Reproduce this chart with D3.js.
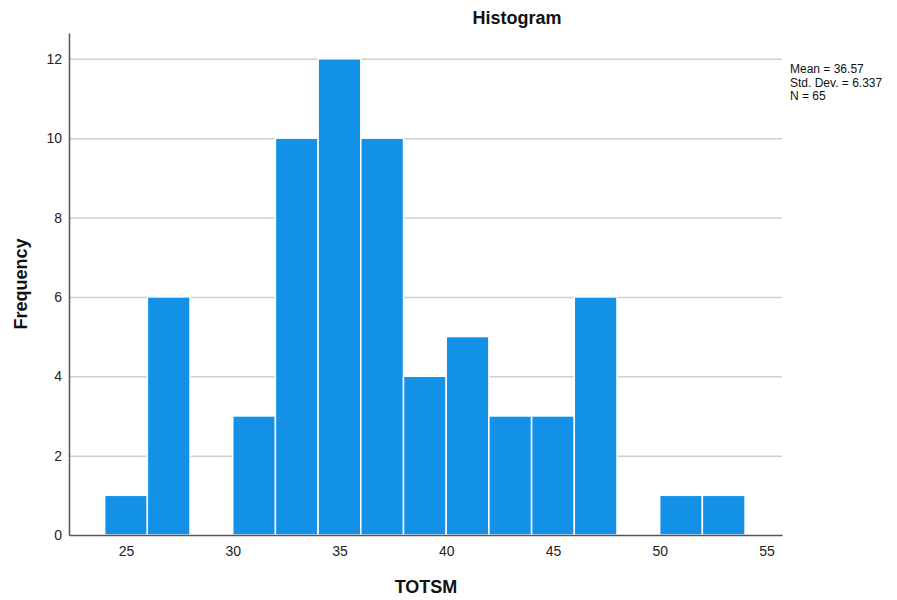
<!DOCTYPE html>
<html>
  <head>
    <title>Histogram</title>
    <script src="https://d3js.org/d3.v7.min.js"></script>
    <style>
      body { margin: 0; background: #fff; }
      svg { font-family: "Liberation Sans", Arial, sans-serif; }
      .axis .tick line { display: none; }
      .axis .domain { stroke: #555; stroke-width: 1.5px; }
      .axis .tick text { font-size: 14px; fill: #222; }
      .grid line { stroke: #cfcfcf; stroke-width: 1.5px; }
      .grid .domain { display: none; }
      .axis__label { font-size: 18px; font-weight: bold; fill: #111; text-anchor: middle; }
      .title { font-size: 18px; font-weight: bold; fill: #111; text-anchor: middle; }
      .stats { font-size: 12px; fill: #111; }
    </style>
  </head>
  <body>
    <svg width="897" height="600"></svg>
    <script>
      const binStarts = [24, 26, 28, 30, 32, 34, 36, 38, 40, 42, 44, 46, 48, 50, 52];
      const frequencies = [1, 6, 0, 3, 10, 12, 10, 4, 5, 3, 3, 6, 0, 1, 1];
      const binWidth = 2;
      const xTicks = [25, 30, 35, 40, 45, 50, 55];
      const yTicks = [0, 2, 4, 6, 8, 10, 12];
      const statsLines = ["Mean = 36.57", "Std. Dev. = 6.337", "N = 65"];
      const xLabel = "TOTSM";
      const yLabel = "Frequency";
      const titleText = "Histogram";

      const margin = {top: 33, right: 115, bottom: 65, left: 69};
      const svg = d3.select("svg");
      const width = +svg.attr("width");
      const height = +svg.attr("height");
      const innerWidth = width - margin.left - margin.right;
      const innerHeight = height - margin.top - margin.bottom;

      const data = binStarts.map((x0, i) => ({x0: x0, x1: x0 + binWidth, count: frequencies[i]}));

      const xScale = d3.scaleLinear().domain([22.33, 55.73]).range([0, innerWidth]);
      const yScale = d3.scaleLinear().domain([0, 12.65]).range([innerHeight, 0]);

      const g = svg.append("g")
          .attr("transform", `translate(${margin.left}, ${margin.top})`);

      g.append("g")
          .attr("class", "grid")
          .call(d3.axisLeft(yScale).tickValues(yTicks.filter(d => d)).tickSize(-innerWidth).tickFormat(""));

      g.selectAll("rect.bar")
        .data(data.filter(d => d.count > 0))
        .enter().append("rect")
          .attr("class", "bar")
          .attr("x", d => xScale(d.x0))
          .attr("y", d => yScale(d.count))
          .attr("width", d => xScale(d.x1) - xScale(d.x0))
          .attr("height", d => yScale(0) - yScale(d.count))
          .attr("fill", "#1391e7")
          .attr("stroke", "#fff")
          .attr("stroke-width", 1.5);

      g.append("g")
          .attr("class", "axis")
          .attr("transform", `translate(0, ${innerHeight})`)
          .call(d3.axisBottom(xScale).tickValues(xTicks).tickSize(0).tickPadding(11));

      g.append("g")
          .attr("class", "axis")
          .call(d3.axisLeft(yScale).tickValues(yTicks).tickSize(0).tickPadding(7));

      svg.append("text")
          .attr("class", "title")
          .attr("x", 517)
          .attr("y", 24)
          .text(titleText);

      svg.append("text")
          .attr("class", "axis__label")
          .attr("x", 426)
          .attr("y", 593)
          .text(xLabel);

      svg.append("text")
          .attr("class", "axis__label")
          .attr("transform", `translate(27, ${margin.top + innerHeight / 2}) rotate(-90)`)
          .text(yLabel);

      svg.append("g")
          .attr("class", "stats")
        .selectAll("text")
        .data(statsLines)
        .enter().append("text")
          .attr("x", 790)
          .attr("y", (d, i) => 73 + i * 13.5)
          .text(d => d);
    </script>
  </body>
</html>
